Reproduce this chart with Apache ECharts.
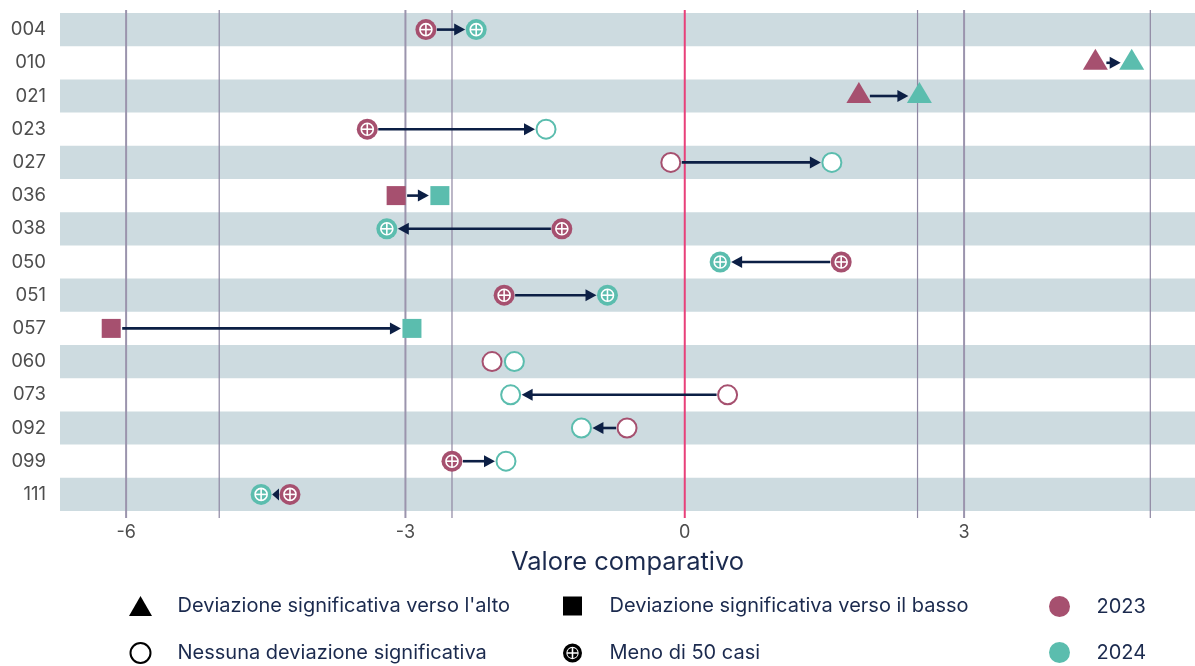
<!DOCTYPE html>
<html>
<head>
<meta charset="utf-8">
<script src="https://cdn.jsdelivr.net/npm/echarts@6/dist/echarts.min.js"></script>
<style>
html,body{margin:0;padding:0;background:#fff;}
#chart{width:1195px;height:666px;}
</style>
</head>
<body>
<div id="chart"></div>
<script>
const categories = ['004','010','021','023','027','036','038','050','051','057','060','073','092','099','111'];
const val2023 = [-2.78, 4.41, 1.87, -3.41, -0.15, -3.10, -1.32, 1.68, -1.94, -6.16, -2.07, 0.46, -0.62, -2.50, -4.24];
const val2024 = [-2.24, 4.80, 2.52, -1.49, 1.58, -2.63, -3.20, 0.38, -0.83, -2.93, -1.83, -1.87, -1.11, -1.92, -4.55];
const type2023 = ['few','up','up','few','none','down','few','few','few','down','none','none','none','few','few'];
const type2024 = ['few','up','up','none','none','down','few','few','few','down','none','none','none','none','few'];
const xTickLabels = [-6, -3, 0, 3];
const majorLines = [-6, -3, 3];
const minorLines = [-5, -2.5, 2.5, 5];
const zeroLine = [0];
const shapeNames = {
  up: 'Deviazione significativa verso l\'alto',
  down: 'Deviazione significativa verso il basso',
  none: 'Nessuna deviazione significativa',
  few: 'Meno di 50 casi'
};

const C23 = '#a6506f', C24 = '#5bbdae', ARROW = '#0c1f45';
const FONT = 'Inter';

function vlineSeries(vals, color, width, z){
  return {
    type: 'custom', z: z, silent: true, clip: false,
    data: vals.map(v => [v, 0]),
    encode: {x: 0, y: 1},
    renderItem: function(params, api){
      const cs = params.coordSys;
      const x = api.coord([api.value(0), 0])[0];
      return {type: 'line', shape: {x1: x, y1: cs.y - 3, x2: x, y2: cs.y + cs.height + 7},
              style: {stroke: color, lineWidth: width}};
    }
  };
}

function drawMarker(kind, p, color){
  const x = p[0], y = p[1];
  if (kind === 'up') {
    return {type: 'polygon', shape: {points: [[x - 12.5, y + 7], [x + 12.5, y + 7], [x, y - 14]]}, style: {fill: color}};
  }
  if (kind === 'down') {
    return {type: 'rect', shape: {x: x - 9.5, y: y - 9.5, width: 19, height: 19}, style: {fill: color}};
  }
  if (kind === 'none') {
    return {type: 'circle', shape: {cx: x, cy: y, r: 9.5}, style: {fill: '#fff', stroke: color, lineWidth: 2}};
  }
  return {type: 'group', children: [
    {type: 'circle', shape: {cx: x, cy: y, r: 10.5}, style: {fill: color}},
    {type: 'circle', shape: {cx: x, cy: y, r: 6}, style: {fill: null, stroke: '#fff', lineWidth: 1.6}},
    {type: 'line', shape: {x1: x - 6, y1: y, x2: x + 6, y2: y}, style: {stroke: '#fff', lineWidth: 1.6}},
    {type: 'line', shape: {x1: x, y1: y - 6, x2: x, y2: y + 6}, style: {stroke: '#fff', lineWidth: 1.6}}
  ]};
}

function pointSeries(name, vals, types, color, z){
  return {
    name: name, type: 'custom', z: z,
    itemStyle: {color: color},
    data: vals.map((v, i) => [v, i]),
    encode: {x: 0, y: 1},
    renderItem: function(params, api){
      const p = api.coord([api.value(0), api.value(1)]);
      return drawMarker(types[params.dataIndex], p, color);
    }
  };
}

const arrowSeries = {
  type: 'custom', z: 2, silent: true,
  data: val2023.map((v, i) => [v, val2024[i], i]),
  encode: {x: [0, 1], y: 2},
  renderItem: function(params, api){
    const a = api.coord([api.value(0), api.value(2)]);
    const b = api.coord([api.value(1), api.value(2)]);
    const d = b[0] >= a[0] ? 1 : -1;
    const start = a[0] + d * 11;
    const tip = b[0] - d * 11;
    const len = (tip - start) * d;
    if (len < 3) return null;
    const head = Math.min(11, len);
    const base = tip - d * head;
    const y = a[1];
    const children = [];
    if (len > head) {
      children.push({type: 'line', shape: {x1: start, y1: y, x2: base + d * 1, y2: y}, style: {stroke: ARROW, lineWidth: 2.6}});
    }
    children.push({type: 'polygon', shape: {points: [[tip, y], [base, y - 6], [base, y + 6]]}, style: {fill: ARROW}});
    return {type: 'group', children: children};
  }
};

function dummy(name){
  return {name: name, type: 'scatter', data: [], itemStyle: {color: '#000', opacity: 1}};
}

const triIcon = 'path://M0,20L11.5,0L23,20Z';
const sqIcon = 'path://M0,0L18,0L18,18L0,18Z';
const crossIcon = 'path://M12,0A12,12 0 1,1 12,24A12,12 0 1,1 12,0Z' +
  'M12,4.2A7.8,7.8 0 1,0 12,19.8A7.8,7.8 0 1,0 12,4.2Z' +
  'M13,5.58A6.5,6.5 0 0,1 18.42,11L13,11Z' +
  'M18.42,13A6.5,6.5 0 0,1 13,18.42L13,13Z' +
  'M11,18.42A6.5,6.5 0 0,1 5.58,13L11,13Z' +
  'M5.58,11A6.5,6.5 0 0,1 11,5.58L11,11Z';

const legendText = {color: '#1b2a4e', fontSize: 20, fontFamily: FONT};
function legendCol(left, items, h){
  return {
    orient: 'vertical', left: left, top: 596, padding: 0,
    itemWidth: 64, itemHeight: h, itemGap: 46 - h,
    selectedMode: false, textStyle: legendText,
    data: items
  };
}

const option = {
  animation: false,
  textStyle: {fontFamily: FONT},
  grid: {left: 60, right: 0, top: 13, bottom: 155, containLabel: false},
  xAxis: {
    type: 'value', min: -6.71, max: 5.48,
    axisLine: {show: false}, axisTick: {show: false}, splitLine: {show: false},
    axisLabel: {customValues: xTickLabels, color: '#4d4d4d', fontSize: 18, margin: 13, fontFamily: FONT},
    name: 'Valore comparativo', nameLocation: 'middle', nameGap: 38,
    nameTextStyle: {color: '#1b2a4e', fontSize: 25.5, fontFamily: FONT}
  },
  yAxis: {
    type: 'category', data: categories, inverse: true,
    axisLine: {show: false}, axisTick: {show: false}, splitLine: {show: false},
    axisLabel: {color: '#4d4d4d', fontSize: 18.5, margin: 14, fontFamily: FONT},
    splitArea: {show: true, areaStyle: {color: ['#cddbe0', 'rgba(255,255,255,0)']}}
  },
  legend: [
    legendCol(129, [
      {name: shapeNames.up, icon: triIcon, itemStyle: {color: '#000'}},
      {name: shapeNames.none, icon: 'circle', itemStyle: {color: '#fff', borderColor: '#000', borderWidth: 2}}
    ], 20),
    legendCol(563, [
      {name: shapeNames.down, icon: sqIcon, itemStyle: {color: '#000'}},
      {name: shapeNames.few, icon: crossIcon, itemStyle: {color: '#000'}}
    ], 19),
    legendCol(1049, [
      {name: '2023', icon: 'circle', itemStyle: {color: C23}},
      {name: '2024', icon: 'circle', itemStyle: {color: C24}}
    ], 21)
  ],
  series: [
    vlineSeries(minorLines, '#8e86a2', 1.2, 1),
    vlineSeries(majorLines, '#9b94ad', 2, 1),
    vlineSeries(zeroLine, '#e8407a', 2, 1),
    arrowSeries,
    pointSeries('2023', val2023, type2023, C23, 3),
    pointSeries('2024', val2024, type2024, C24, 4),
    dummy(shapeNames.up), dummy(shapeNames.down), dummy(shapeNames.none), dummy(shapeNames.few)
  ]
};

const chart = echarts.init(document.getElementById('chart'), null, {renderer: 'canvas'});
chart.setOption(option);
</script>
</body>
</html>
